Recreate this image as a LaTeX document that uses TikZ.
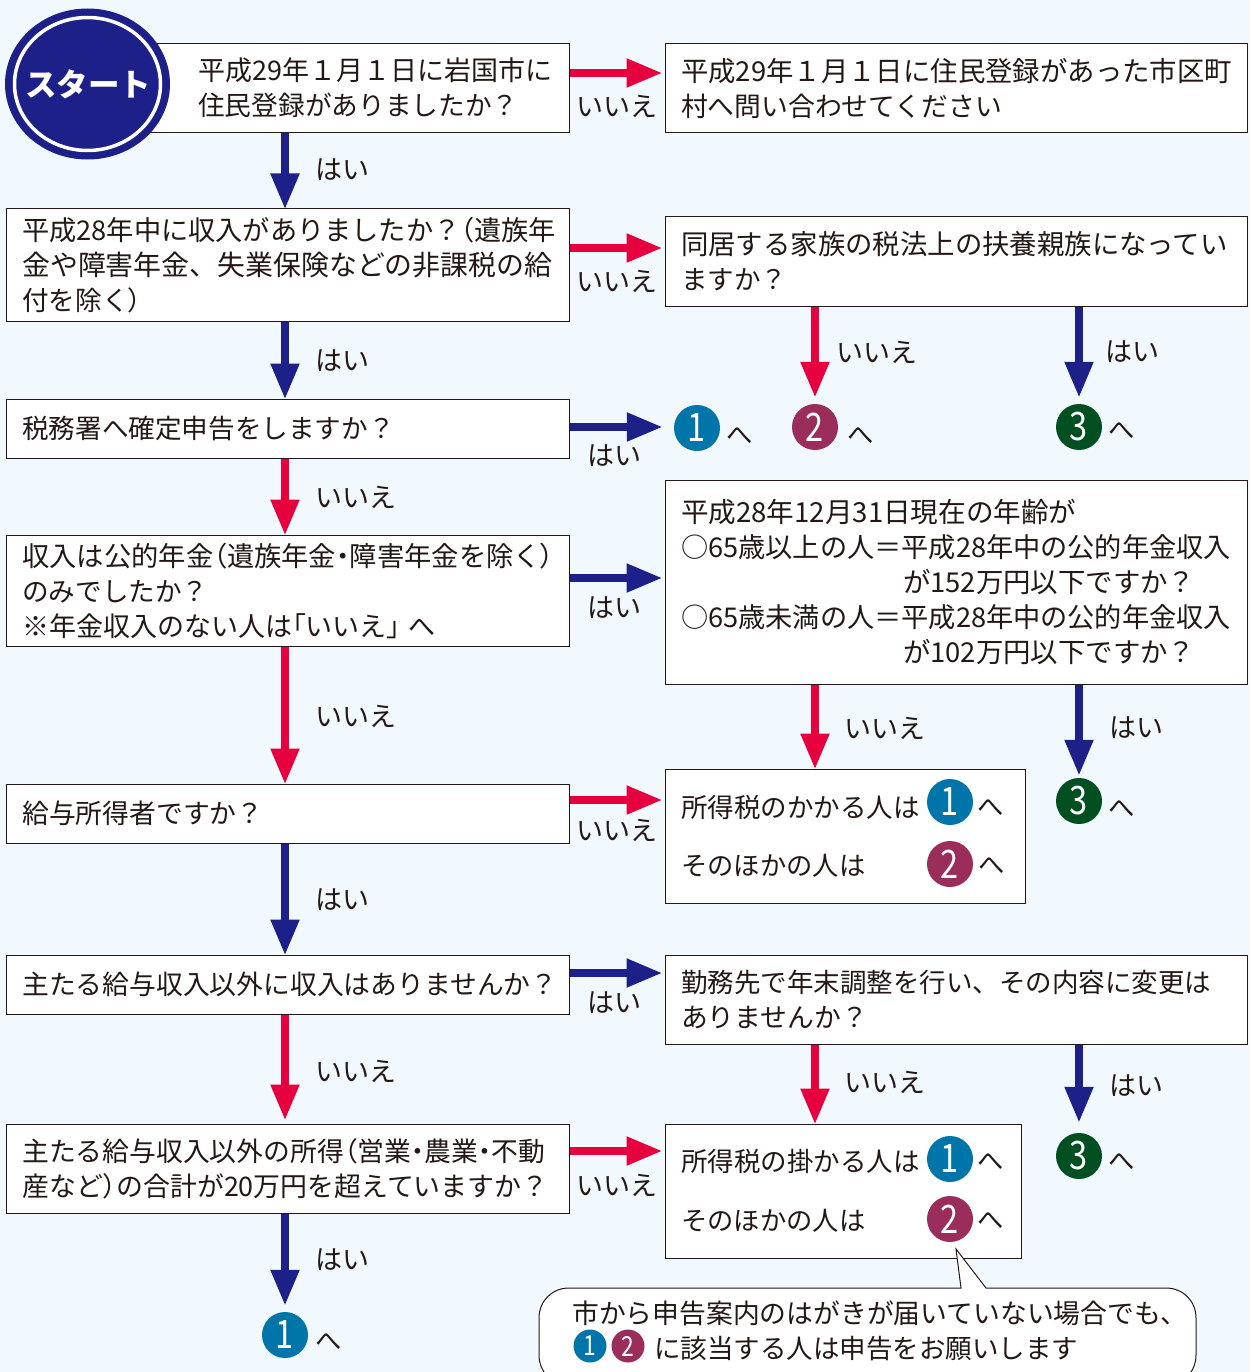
\documentclass[tikz,border=0pt]{standalone}
\usepackage{graphicx}
\usepackage{fontspec}
\setmainfont{Noto Sans CJK JP}
\newfontfamily\palt[RawFeature=+palt]{Noto Sans CJK JP}
\usetikzlibrary{arrows.meta,shapes.geometric}
\definecolor{bgc}{HTML}{F1F9FE}
\definecolor{inkc}{HTML}{231815}
\definecolor{redc}{HTML}{E6003E}
\definecolor{bluec}{HTML}{1D2088}
\definecolor{tealc}{HTML}{0075A9}
\definecolor{winec}{HTML}{9B2D5A}
\definecolor{greenc}{HTML}{004F21}
\newcommand{\pp}[1]{{\palt #1}}
\newcommand{\fz}[1]{\fontsize{#1}{35}\selectfont}
\newcommand{\dg}[1]{\scalebox{.88}[1.06]{#1}}
\tikzset{
  x=1pt,y=-1pt,
  box/.style 2 args={draw=inkc,line width=1pt,fill=white,rectangle,inner xsep=16pt,inner ysep=0pt,
    minimum width=#1pt,minimum height=#2pt,text width={#1pt-32pt},align=left,text=inkc,
    font=\fz{26.8}},
  txt/.style={inner sep=0pt,text=inkc,font=\fz{26.3}},
  hh/.style={txt,yshift=-1pt},
  lbl/.style={txt,font=\fz{27},yshift=-1pt},
  bd/.style={circle,fill=#1,minimum size=46pt,inner sep=0pt,text=white,font=\fontsize{37}{40}\selectfont},
  bds/.style={circle,fill=#1,minimum size=33pt,inner sep=0pt,text=white,font=\fontsize{26}{30}\selectfont},
  redarrow/.style={draw=redc,line width=8pt,-{Triangle[length=36pt,width=27pt]},redc},
  bluearrow/.style={draw=bluec,line width=8pt,-{Triangle[length=36pt,width=27pt]},bluec},
}
\begin{document}
\begin{tikzpicture}
\useasboundingbox (0,0) rectangle (1250,1372);
\fill[bgc] (0,0) rectangle (1250,1372);
% left column
\node[box={419.5}{89}] (b1) at (360,88) {\hspace*{32pt}{\fz{27}平成29年１月１日に岩国市に}\\\hspace*{32pt}{\fz{26.7}住民登録がありましたか？}};
\node[box={563.5}{112}] (b2) at (288,265) {{\fz{27.2}平成28年中に収入がありましたか？\pp{（}遺族年}\\{\fz{27.9}金や障害年金、失業保険などの非課税の給}\\{\fz{26.6}付を除く\pp{）}}};
\node[box={563.5}{59}] (b3) at (288,428.5) {{\fz{26.6}税務署へ確定申告をしますか？}};
\node[box={563.5}{111}] (b4) at (288,590.5) {{\fz{27.3}収入は公的年金\pp{（}遺族年金\pp{・}障害年金を除く\pp{）}}\\{\fz{26.6}のみでしたか？}\\{\fz{27}※年金収入のない人は\pp{「}いいえ\pp{」}\hspace{8pt}へ}};
\node[box={563.5}{59}] (b5) at (288,813.5) {給与所得者ですか？};
\node[box={563.5}{59}] (b6) at (288,984.5) {主たる給与収入以外に収入はありませんか？};
\node[box={563.5}{89}] (b7) at (288,1168.5) {主たる給与収入以外の所得\pp{（}営業\pp{・}農業\pp{・}不動\\{\fz{26.9}産など\pp{）}の合計が20万円を超えていますか？}};
% right column
\node[box={582}{89}] (n1) at (956,88) {{\fz{27.4}平成29年１月１日に住民登録があった市区町}\\村へ問い合わせてください};
\node[box={582}{89}] (n2) at (956,261.5) {{\fz{27.4}同居する家族の税法上の扶養親族になってい}\\{\fz{26.5}ますか？}};
\node[box={582}{204},font=\fz{27.2}] (n4) at (956,582) {{\fz{27.6}平成28年12月31日現在の年齢が}\\○65歳以上の人＝平成28年中の公的年金収入\\\hspace*{222pt}{\fz{27.4}が152万円以下ですか？}\\○65歳未満の人＝平成28年中の公的年金収入\\\hspace*{222pt}{\fz{27.4}が102万円以下ですか？}};
\node[box={360}{134}] (n5) at (845,836) {};
\node[box={582}{89}] (n6) at (956,999.5) {{\fz{26.5}勤務先で年末調整を行い、その内容に変更は}\\ありませんか？};
\node[box={356}{134}] (n7) at (843,1191) {};
% start
\node[ellipse,fill=bluec,minimum width=165pt,minimum height=151pt,inner sep=0pt] (s0) at (87.5,84) {};
\draw[white,line width=3.5pt] (s0.center) ellipse (73 and 66.5);
\node[inner sep=0pt,text=white,font=\bfseries\fontsize{31.5}{36}\selectfont] (s1) at (88,84) {スタート};
% badges
\node[bd=tealc] (d1) at (697,428) {\dg{1}};
\node[bd=winec] (d2) at (815,427) {\dg{2}};
\node[bd=greenc] (d3) at (1079,427) {\dg{3}};
\node[bd=greenc] (d4) at (1079,801) {\dg{3}};
\node[bd=tealc] (d5) at (950,802) {\dg{1}};
\node[bd=winec] (d6) at (950,864) {\dg{2}};
\node[bd=tealc] (d7) at (950,1159) {\dg{1}};
\node[bd=winec] (d8) at (950,1219) {\dg{2}};
\node[bd=greenc] (d9) at (1079,1156) {\dg{3}};
\node[bd=tealc] (d10) at (285,1335) {\dg{1}};
% へ
\node[hh] (h1) at (740,435) {へ};
\node[hh] (h2) at (861,435) {へ};
\node[hh] (h3) at (1122,430) {へ};
\node[hh] (h4) at (1122,808) {へ};
\node[hh] (h5) at (991,807) {へ};
\node[hh] (h6) at (992,865) {へ};
\node[hh] (h7) at (991,1161) {へ};
\node[hh] (h8) at (991,1220) {へ};
\node[hh] (h9) at (1122,1161) {へ};
\node[hh] (h10) at (329,1341) {へ};
% inner texts
\node[txt,anchor=west,font=\fz{26.5}] (t1) at (681,807.5) {所得税のかかる人は};
\node[txt,anchor=west] (t2) at (681,865.5) {そのほかの人は};
\node[txt,anchor=west,font=\fz{26.5}] (t3) at (681,1161.5) {所得税の掛かる人は};
\node[txt,anchor=west] (t4) at (681,1220.5) {そのほかの人は};
% arrows
\draw[redarrow,shorten >=2pt] (b1.east |- 0,73) -- (n1.west |- 0,73);
\draw[redarrow,shorten >=2pt] (b2.east |- 0,248) -- (n2.west |- 0,248);
\draw[bluearrow,shorten >=11pt] (b3.east |- 0,427) -- (d1.west |- 0,427);
\draw[bluearrow,shorten >=2pt] (b4.east |- 0,578) -- (n4.west |- 0,578);
\draw[redarrow,shorten >=2pt] (b5.east |- 0,800) -- (n5.west |- 0,800);
\draw[bluearrow,shorten >=2pt] (b6.east |- 0,973) -- (n6.west |- 0,973);
\draw[redarrow,shorten >=2pt] (b7.east |- 0,1151) -- (n7.west |- 0,1151);
\draw[bluearrow,shorten >=-1pt] (285,0 |- b1.south) -- (285,0 |- b2.north);
\draw[bluearrow,shorten >=-1pt] (285,0 |- b2.south) -- (285,0 |- b3.north);
\draw[redarrow,shorten >=-1pt] (285,0 |- b3.south) -- (285,0 |- b4.north);
\draw[redarrow,shorten >=-1pt] (285,0 |- b4.south) -- (285,0 |- b5.north);
\draw[bluearrow,shorten >=-1pt] (285,0 |- b5.south) -- (285,0 |- b6.north);
\draw[redarrow,shorten >=3pt] (285,0 |- b6.south) -- (285,0 |- b7.north);
\draw[bluearrow,shorten >=6pt] (285,0 |- b7.south) -- (d10.north);
\draw[redarrow,shorten >=6pt] (815,0 |- n2.south) -- (d2.north);
\draw[bluearrow,shorten >=6pt] (1079,0 |- n2.south) -- (d3.north);
\draw[redarrow,shorten >=-1pt] (815,0 |- n4.south) -- (815,0 |- n5.north);
\draw[bluearrow,shorten >=2pt] (1079,0 |- n4.south) -- (d4.north);
\draw[redarrow,shorten >=-1pt] (815,0 |- n6.south) -- (815,0 |- n7.north);
\draw[bluearrow,shorten >=10pt] (1079,0 |- n6.south) -- (d9.north);
% labels
\node[lbl] (a1) at (617,105) {いいえ};
\node[lbl] (a2) at (342,169) {はい};
\node[lbl] (a3) at (617,280) {いいえ};
\node[lbl] (a4) at (342,360) {はい};
\node[lbl] (a5) at (877,351) {いいえ};
\node[lbl] (a6) at (1132,351) {はい};
\node[lbl] (a7) at (614,455) {はい};
\node[lbl] (a8) at (356,496) {いいえ};
\node[lbl] (a9) at (614,607) {はい};
\node[lbl] (a10) at (356,715) {いいえ};
\node[lbl] (a11) at (885,727) {いいえ};
\node[lbl] (a12) at (1136,727) {はい};
\node[lbl] (a13) at (617,829) {いいえ};
\node[lbl] (a14) at (342,899) {はい};
\node[lbl] (a15) at (614,1002) {はい};
\node[lbl] (a16) at (356,1070) {いいえ};
\node[lbl] (a17) at (885,1081) {いいえ};
\node[lbl] (a18) at (1136,1085) {はい};
\node[lbl] (a19) at (617,1184) {いいえ};
\node[lbl] (a20) at (342,1259) {はい};
% callout
\begin{scope}
\clip (0,0) rectangle (1250,1372);
\draw[inkc,line width=1pt,fill=white] (539,1318) .. controls (539,1301) and (552,1288) .. (569,1288) -- (961,1288) -- (956,1249) -- (986,1288) -- (1166,1288) .. controls (1183,1288) and (1196,1301) .. (1196,1318) -- (1196,1355) .. controls (1196,1372) and (1183,1385) .. (1166,1385) -- (569,1385) .. controls (552,1385) and (539,1372) .. (539,1355) -- cycle;
\end{scope}
\node[txt,anchor=west,font=\fz{26.8}] (c1) at (572,1313.5) {市から申告案内のはがきが届いていない場合でも、};
\node[bds=tealc] (e1) at (590,1346) {\dg{1}};
\node[bds=winec] (e2) at (628,1346) {\dg{2}};
\node[txt,anchor=west,font=\fz{26.5}] (c2) at (654,1348.5) {に該当する人は申告をお願いします};
\end{tikzpicture}
\end{document}
